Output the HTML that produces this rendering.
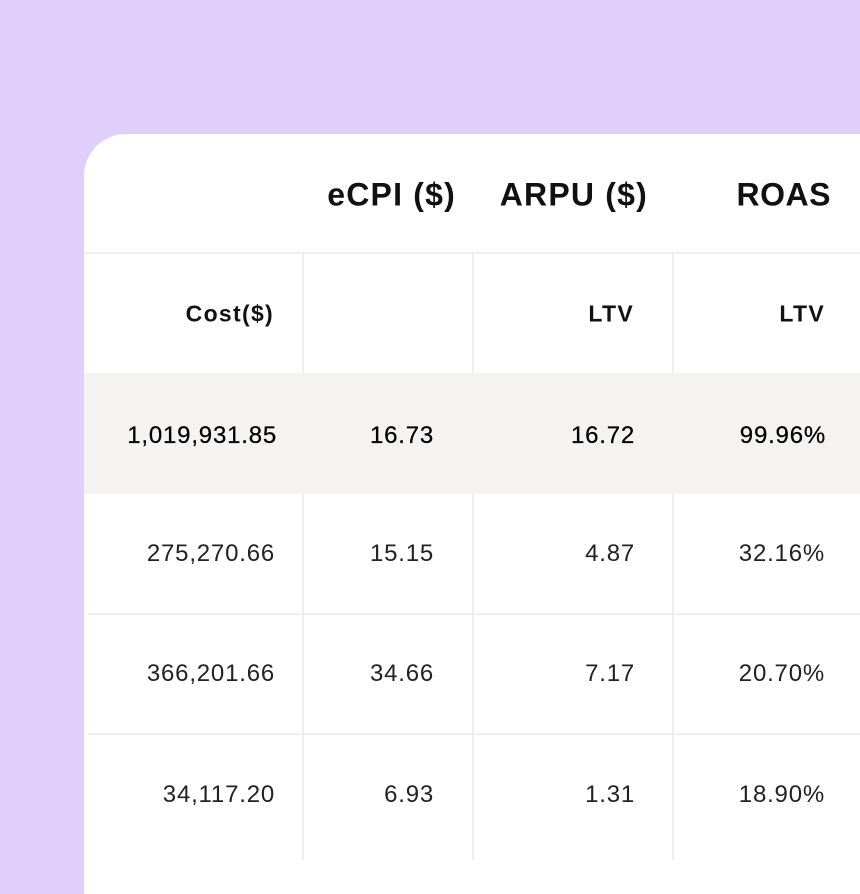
<!DOCTYPE html>
<html><head><meta charset="utf-8"><style>
html,body{margin:0;padding:0}
body{width:860px;height:860px;background:#e0cffb;position:relative;overflow:hidden;font-family:"Liberation Sans",sans-serif;color:#1a1a1a}
.card{position:absolute;left:84px;top:134px;width:800px;height:760px;background:#fff;border-top-left-radius:42px}
.hl{position:absolute;left:84px;top:373px;width:776px;height:121px;background:#f4f3f2}
.h{position:absolute;height:2px;background:#efefef}
.v{position:absolute;width:2px;background:#efefef}
.t{position:absolute;white-space:nowrap;text-align:right;transform:translateY(-50%)}
.hd{font-size:32px;font-weight:bold;letter-spacing:1.2px;color:#111}
.sb{font-size:23px;font-weight:bold;letter-spacing:1.3px;color:#111}
.d{font-size:24px;color:#222;letter-spacing:0.8px}
.m{font-size:24px;color:#000;letter-spacing:0.8px;-webkit-text-stroke:0.25px #000}
</style></head><body>
<div class="card"></div>
<div class="hl"></div>
<div class="h" style="left:84px;top:252px;width:776px"></div>
<div class="h" style="left:88px;top:613px;width:772px"></div>
<div class="h" style="left:88px;top:733px;width:772px"></div>
<div class="v" style="left:302px;top:253px;height:120px"></div>
<div class="v" style="left:472px;top:253px;height:120px"></div>
<div class="v" style="left:672px;top:253px;height:120px"></div>
<div class="v" style="left:302px;top:494px;height:366px"></div>
<div class="v" style="left:472px;top:494px;height:366px"></div>
<div class="v" style="left:672px;top:494px;height:366px"></div>

<div class="t hd" style="right:404px;top:195px">eCPI ($)</div>
<div class="t hd" style="right:212px;top:195px">ARPU ($)</div>
<div class="t hd" style="right:29px;top:195px;letter-spacing:0.5px">ROAS</div>

<div class="t sb" style="right:586px;top:314px">Cost($)</div>
<div class="t sb" style="right:226px;top:314px">LTV</div>
<div class="t sb" style="right:35px;top:314px">LTV</div>

<div class="t m" style="right:583px;top:436px">1,019,931.85</div>
<div class="t m" style="right:426px;top:436px">16.73</div>
<div class="t m" style="right:225px;top:436px">16.72</div>
<div class="t m" style="right:34px;top:436px">99.96%</div>

<div class="t d" style="right:585px;top:554px">275,270.66</div>
<div class="t d" style="right:426px;top:554px">15.15</div>
<div class="t d" style="right:225px;top:554px">4.87</div>
<div class="t d" style="right:35px;top:554px">32.16%</div>

<div class="t d" style="right:585px;top:674px">366,201.66</div>
<div class="t d" style="right:426px;top:674px">34.66</div>
<div class="t d" style="right:225px;top:674px">7.17</div>
<div class="t d" style="right:35px;top:674px">20.70%</div>

<div class="t d" style="right:585px;top:795px">34,117.20</div>
<div class="t d" style="right:426px;top:795px">6.93</div>
<div class="t d" style="right:225px;top:795px">1.31</div>
<div class="t d" style="right:35px;top:795px">18.90%</div>
</body></html>
